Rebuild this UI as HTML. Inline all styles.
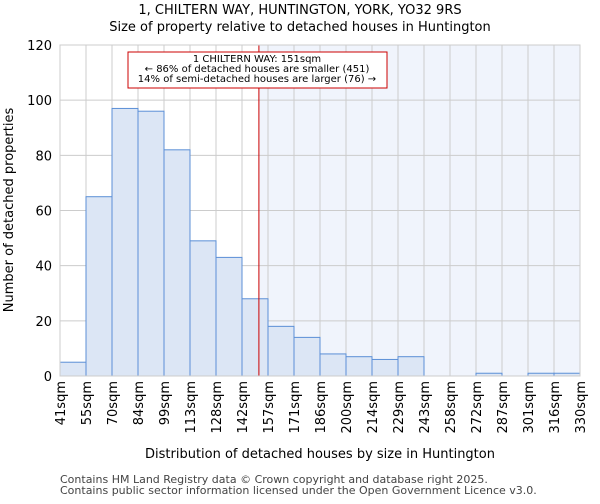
<!DOCTYPE html>
<html><head><meta charset="utf-8"><style>
body{margin:0;background:#fff;font-family:"DejaVu Sans","Liberation Sans",sans-serif;}
</style></head><body>
<svg id="chart" width="600" height="500" xmlns="http://www.w3.org/2000/svg" font-family="DejaVu Sans, Liberation Sans, sans-serif">
<text x="300" y="14" text-anchor="middle" font-size="13">1, CHILTERN WAY, HUNTINGTON, YORK, YO32 9RS</text>
<text x="300" y="31" text-anchor="middle" font-size="13">Size of property relative to detached houses in Huntington</text>
<g id="plot"></g>
<text x="320" y="458" text-anchor="middle" font-size="13">Distribution of detached houses by size in Huntington</text>
<text transform="translate(13,210) rotate(-90)" text-anchor="middle" font-size="13">Number of detached properties</text>
<text x="60" y="483" font-size="11" fill="#444">Contains HM Land Registry data © Crown copyright and database right 2025.</text>
<text x="60" y="494" font-size="11" fill="#444">Contains public sector information licensed under the Open Government Licence v3.0.</text>
</svg>
<script>
const categories=["41sqm","55sqm","70sqm","84sqm","99sqm","113sqm","128sqm","142sqm","157sqm","171sqm","186sqm","200sqm","214sqm","229sqm","243sqm","258sqm","272sqm","287sqm","301sqm","316sqm","330sqm"];
const counts=[5,65,97,96,82,49,43,28,18,14,8,7,6,7,0,0,1,0,1,1];
const yTicks=[0,20,40,60,80,100,120];
const markerBin=7.65;
const NS="http://www.w3.org/2000/svg";
const L=60,R=580,T=45,B=376,yMax=120;
const bw=(R-L)/counts.length;
const x=i=>L+i*bw;
const y=v=>B-(v/yMax)*(B-T);
const g=document.getElementById('plot');
function el(t,a){const e=document.createElementNS(NS,t);for(const k in a)e.setAttribute(k,a[k]);g.appendChild(e);return e;}
const mx=x(markerBin);
let e=el('rect',{x:mx,y:T,width:R-mx,height:B-T,fill:'#f0f4fc'});


yTicks.forEach(v=>{
 let l=el('line',{x1:L,x2:R,y1:y(v),y2:y(v),stroke:'#ccc'});
 
 
 let t=el('text',{x:L-8,y:y(v)+5,'text-anchor':'end','font-size':13});
 t.textContent=v;
 
 
});
categories.forEach((c,i)=>{
 let l=el('line',{x1:x(i),x2:x(i),y1:T,y2:B,stroke:'#ccc'});
 
 
 let t=el('text',{transform:`translate(${x(i)+5},${B+5}) rotate(-90)`,'text-anchor':'end','font-size':13});
 t.textContent=c;
 
 
});
counts.forEach((v,i)=>{
 if(v<=0)return;
 let r=el('rect',{x:x(i),y:y(v),width:bw,height:B-y(v),fill:'#dce6f5',stroke:'#5b8fd6','stroke-width':1});
 
 
});
e=el('line',{x1:mx,x2:mx,y1:T,y2:B,stroke:'#cc0000','stroke-width':1});


e=el('rect',{x:128,y:52,width:259,height:36,fill:'#fff',stroke:'#cc0000'});


["1 CHILTERN WAY: 151sqm","← 86% of detached houses are smaller (451)","14% of semi-detached houses are larger (76) →"].forEach((s,i)=>{
 let t=el('text',{x:257,y:62+i*10,'text-anchor':'middle','font-size':10});
 t.textContent=s;
 
 
});
e=el('rect',{x:L,y:T,width:R-L,height:B-T,fill:'none',stroke:'#ccc'});


</script>
</body></html>
